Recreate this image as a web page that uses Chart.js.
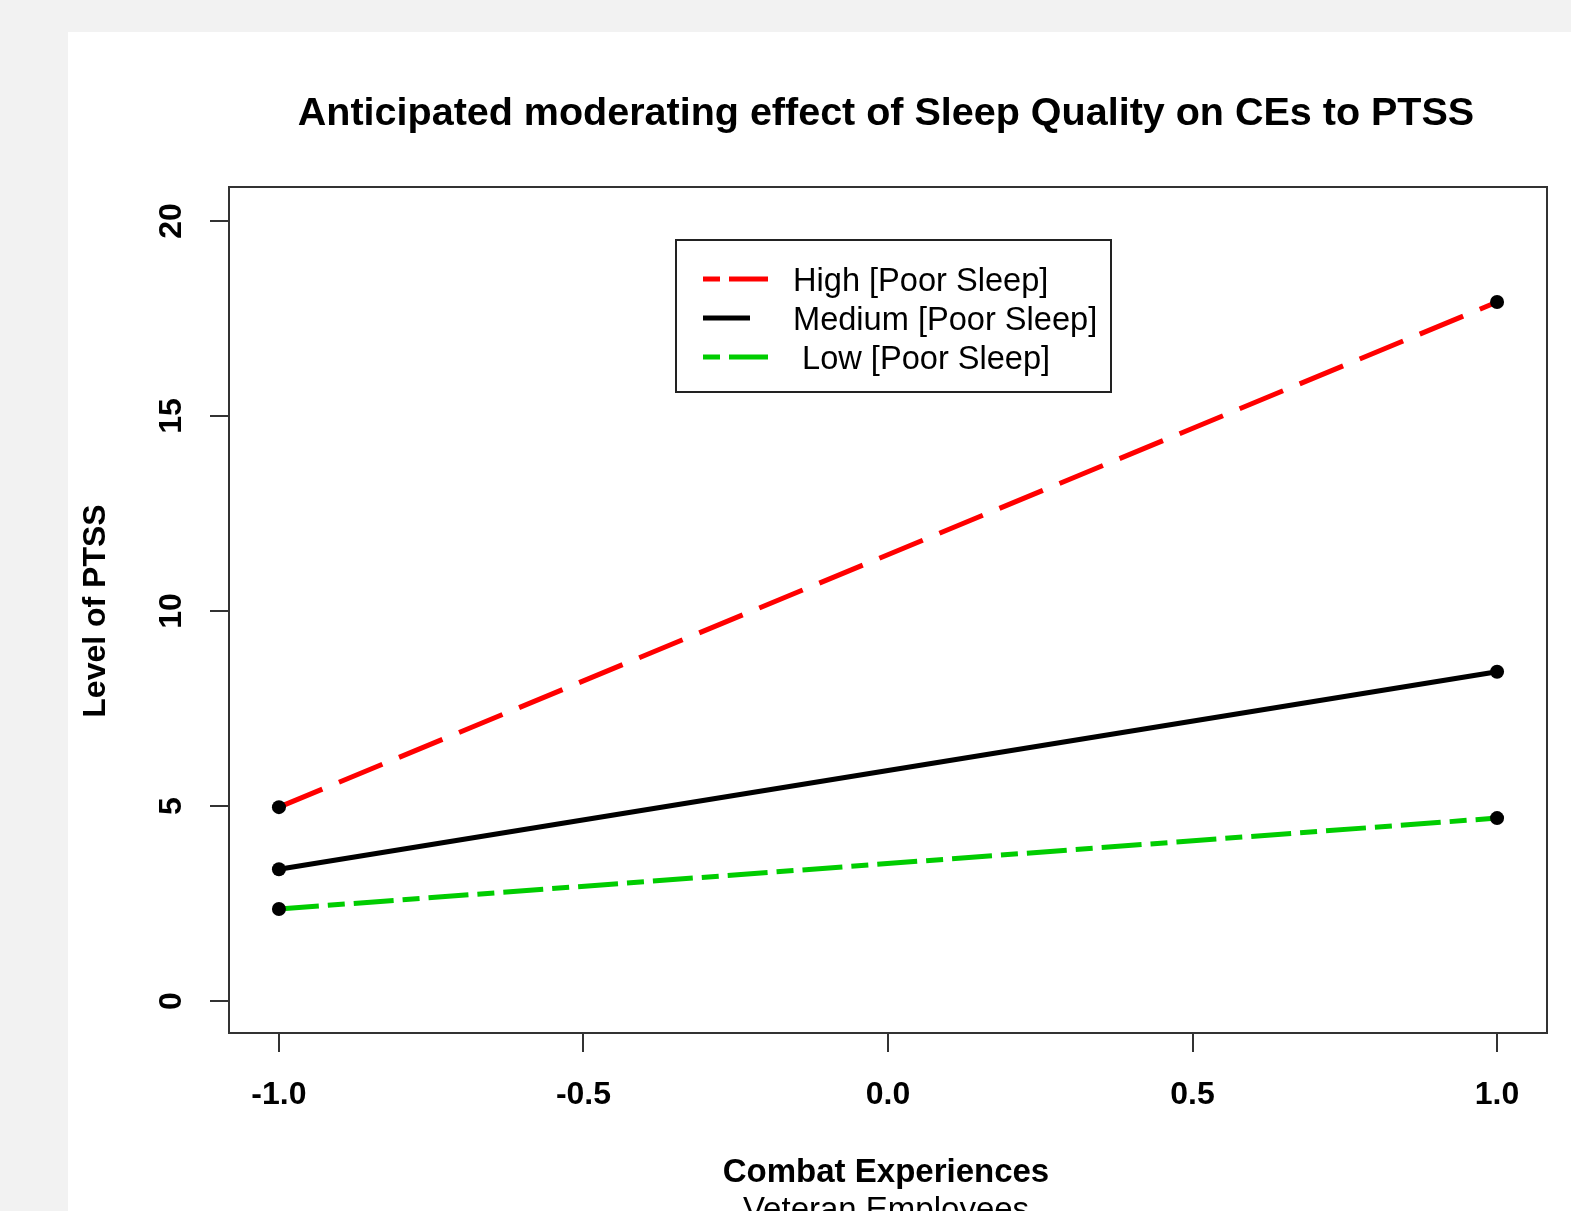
<!DOCTYPE html>
<html><head><meta charset="utf-8">
<script src="https://cdn.jsdelivr.net/npm/chart.js@4.4.1/dist/chart.umd.min.js"></script>
<style>
html,body{margin:0;padding:0;background:#f2f2f2;width:1571px;height:1211px;overflow:hidden}
#panel{position:absolute;left:68px;top:32px;width:1503px;height:1179px;background:#fff}
#c{position:absolute;left:0;top:0}
</style></head><body>
<div id="panel"></div>
<canvas id="c" width="1571" height="1211"></canvas>
<script>
const chartTitle = "Anticipated moderating effect of Sleep Quality on CEs to PTSS";
const xAxisTitle = "Combat Experiences";
const xAxisSubtitle = "Veteran Employees";
const yAxisTitle = "Level of PTSS";
const seriesLabels = ["High [Poor Sleep]", "Medium [Poor Sleep]", " Low [Poor Sleep]"];
const xValues = [-1, 1];
const highValues = [4.97, 17.92];
const mediumValues = [3.38, 8.44];
const lowValues = [2.36, 4.69];
const xTickValues = [-1.0, -0.5, 0.0, 0.5, 1.0];
const yTickValues = [0, 5, 10, 15, 20];

const FONT = "'Liberation Sans', Arial, sans-serif";
const toPts = vals => xValues.map((x, i) => ({x: x, y: vals[i]}));

function ds(label, vals, color, dash, legendDash) {
  return {
    label: label, data: toPts(vals), borderColor: color, borderWidth: 5,
    borderDash: dash, borderCapStyle: 'butt', fill: false, tension: 0,
    pointRadius: 7, pointBackgroundColor: '#000', pointBorderColor: '#000', pointBorderWidth: 0,
    pointHoverRadius: 7, legendDash: legendDash
  };
}

const decor = {
  id: 'decor',
  beforeDatasetsDraw(chart) {
    const ctx = chart.ctx, a = chart.chartArea;
    ctx.save();
    ctx.strokeStyle = '#333'; ctx.lineWidth = 2;
    ctx.strokeRect(a.left, a.top, a.right - a.left, a.bottom - a.top);
    ctx.restore();
  },
  afterDraw(chart) {
    const ctx = chart.ctx;
    ctx.save();
    ctx.fillStyle = '#000';
    ctx.textAlign = 'center';
    ctx.textBaseline = 'alphabetic';
    ctx.font = "bold 39.5px " + FONT;
    ctx.fillText(chartTitle, 886, 125);
    ctx.font = "bold 33px " + FONT;
    ctx.fillText(xAxisTitle, 886, 1182);
    ctx.font = "33px " + FONT;
    ctx.fillText(xAxisSubtitle, 886, 1220);
    ctx.save();
    ctx.translate(105, 611);
    ctx.rotate(-Math.PI / 2);
    ctx.font = "bold 32px " + FONT;
    ctx.fillText(yAxisTitle, 0, 0);
    ctx.restore();
    // legend
    const L = 676, T = 240, R = 1111, B = 392;
    ctx.fillStyle = '#fff';
    ctx.fillRect(L, T, R - L, B - T);
    ctx.strokeStyle = '#222'; ctx.lineWidth = 2;
    ctx.strokeRect(L, T, R - L, B - T);
    const rows = [279, 318, 357];
    chart.data.datasets.forEach((d, i) => {
      const y = rows[i];
      ctx.strokeStyle = d.borderColor; ctx.lineWidth = 5; ctx.lineCap = 'butt';
      ctx.setLineDash(d.legendDash);
      ctx.beginPath();
      ctx.moveTo(703, y);
      ctx.lineTo(d.legendDash.length ? 768 : 750, y);
      ctx.stroke();
      ctx.setLineDash([]);
      ctx.fillStyle = '#000';
      ctx.textAlign = 'left';
      ctx.font = "32.6px " + FONT;
      ctx.fillText(d.label, 793, y + 11.5);
    });
    ctx.restore();
  }
};

new Chart(document.getElementById('c'), {
  type: 'line',
  data: {
    datasets: [
      ds(seriesLabels[0], highValues, '#ff0000', [47, 18], [17, 9, 40, 100]),
      ds(seriesLabels[1], mediumValues, '#000000', [], []),
      ds(seriesLabels[2], lowValues, '#00cd00', [40, 9, 17, 9], [17, 9, 40, 100])
    ]
  },
  plugins: [decor],
  options: {
    responsive: false, animation: false, devicePixelRatio: 1,
    layout: {padding: {left: 0, top: 187, right: 24, bottom: 0}},
    plugins: {legend: {display: false}, tooltip: {enabled: false}, title: {display: false}},
    events: [],
    scales: {
      x: {
        type: 'linear', position: 'bottom', min: -1.082, max: 1.082,
        afterBuildTicks: s => { s.ticks = xTickValues.map(v => ({value: v})); },
        afterFit: s => { s.height = 178; },
        grid: {display: true, drawOnChartArea: false, drawTicks: true, tickLength: 19, color: '#333', tickColor: '#333', lineWidth: 2, tickWidth: 2},
        border: {display: false},
        ticks: {font: {family: FONT, size: 32, weight: 'bold'}, color: '#000', padding: 24,
                maxRotation: 0, minRotation: 0, autoSkip: false, callback: v => Number(v).toFixed(1)}
      },
      y: {
        type: 'linear', position: 'left', min: -0.82, max: 20.87,
        afterBuildTicks: s => { s.ticks = yTickValues.map(v => ({value: v})); },
        afterFit: s => { s.width = 229; },
        grid: {display: true, drawOnChartArea: false, drawTicks: true, tickLength: 19, color: '#333', tickColor: '#333', lineWidth: 2, tickWidth: 2},
        border: {display: false},
        ticks: {font: {family: FONT, size: 32, weight: 'bold'}, color: '#000', padding: 20,
                minRotation: 90, maxRotation: 90, crossAlign: 'center', autoSkip: false, callback: v => String(v)}
      }
    }
  }
});
</script>
</body></html>
